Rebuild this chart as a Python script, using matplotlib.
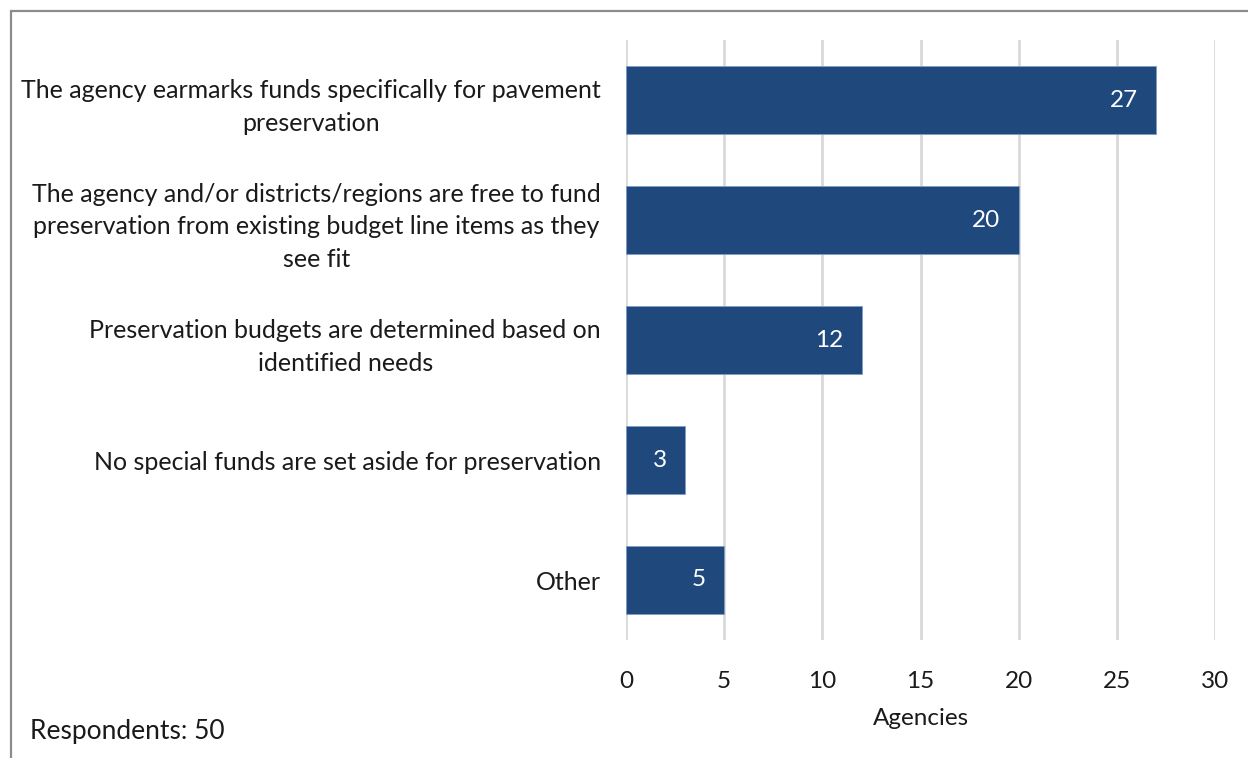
import matplotlib.pyplot as plt
from matplotlib.patches import Rectangle

categories = [
    "The agency earmarks funds specifically for pavement\npreservation",
    "The agency and/or districts/regions are free to fund\npreservation from existing budget line items as they\nsee fit",
    "Preservation budgets are determined based on\nidentified needs",
    "No special funds are set aside for preservation",
    "Other",
]
values = [27, 20, 12, 3, 5]
xticks = [0, 5, 10, 15, 20, 25, 30]

plt.rcParams['font.family'] = ['Lato', 'DejaVu Sans']

fig = plt.figure(figsize=(12.48, 7.58), dpi=100)
ax = fig.add_axes([626 / 1248, 1 - 640 / 758, 589 / 1248, 600 / 758])

pos = list(range(len(categories)))
bars = ax.barh(pos, values, height=0.57, color="#1F497D", edgecolor="#7F9DC6", linewidth=0.6, zorder=3)
ax.set_ylim(len(categories) - 0.5, -0.5)
ax.set_xlim(0, 30)
ax.set_xticks(xticks)
ax.set_yticks(pos)
ax.set_yticklabels(categories, fontsize=18, multialignment='center', color="#1a1a1a", linespacing=1.5)
ax.tick_params(axis='both', length=0)
ax.tick_params(axis='y', pad=18)
ax.tick_params(axis='x', labelsize=17.5, pad=22, colors="#1a1a1a")
ax.grid(axis='x', color="#d9d9d9", linewidth=2, zorder=0)
for s in ax.spines.values():
    s.set_visible(False)

for b, v in zip(bars, values):
    ax.annotate(str(v), (v, b.get_y() + b.get_height() / 2), xytext=(-13, 0),
                textcoords="offset points", ha='right', va='center',
                color='white', fontsize=17.5, zorder=4)

ax.set_xlabel("Agencies", fontsize=17.5, labelpad=12, color="#1a1a1a")

fig.text(30 / 1248, 1 - 731 / 758, "Respondents: 50", fontsize=19, va='center', ha='left', color="#1a1a1a")

fig.patches.append(Rectangle((11 / 1248, -0.1), 1.2, 0.1 + (1 - 11 / 758), transform=fig.transFigure,
                             fill=False, edgecolor="#8c8c8c", linewidth=1.6, zorder=10))

fig.savefig("out.png", dpi=100)
